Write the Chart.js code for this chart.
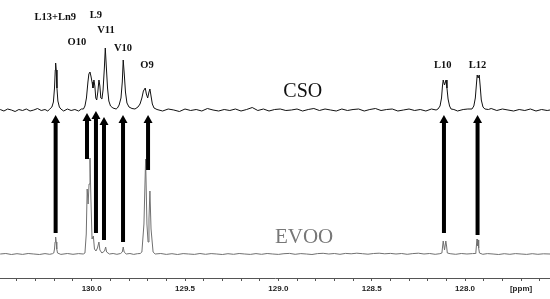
<!DOCTYPE html>
<html>
<head>
<meta charset="utf-8">
<script src="https://cdn.jsdelivr.net/npm/chart.js@4/dist/chart.umd.min.js"></script>
<style>
  html, body { margin: 0; padding: 0; background: #fff; }
  #wrap { width: 550px; height: 299px; position: relative; }
</style>
</head>
<body>
<div id="wrap"><canvas id="nmr"></canvas></div>
<script>
// 13C NMR, olefinic region: CSO (top) vs EVOO (bottom)
// [ppm, intensity above baseline]
const csoSpectrum = [
  [130.490, 0.5], [130.470, -1], [130.450, 1], [130.430, 0], [130.410, -1.5], [130.390, 0.5],
  [130.370, -0.5], [130.350, 1], [130.330, -1], [130.310, 0], [130.290, 1.5], [130.270, -0.5],
  [130.250, 0.5], [130.235, -1],
  [130.224, 1], [130.213, 3], [130.205, 8], [130.199, 22], [130.195, 40], [130.193, 47],
  [130.190, 40], [130.186, 22], [130.181, 9], [130.173, 3], [130.165, 1],
  [130.150, -1], [130.130, 1], [130.110, -0.5], [130.090, 0.5], [130.070, -1], [130.055, 1],
  [130.044, 1], [130.036, 4], [130.028, 12], [130.020, 28], [130.015, 36], [130.009, 38],
  [130.004, 34], [129.998, 28], [129.993, 22], [129.988, 30], [129.983, 24], [129.978, 12],
  [129.973, 10], [129.967, 18], [129.961, 30], [129.956, 24], [129.951, 12], [129.945, 11],
  [129.939, 20], [129.932, 42], [129.927, 62], [129.922, 45], [129.915, 22], [129.908, 9],
  [129.899, 4], [129.886, 2], [129.869, 1],
  [129.862, 2], [129.853, 5], [129.843, 12], [129.836, 28], [129.831, 50], [129.825, 35],
  [129.819, 18], [129.811, 7], [129.800, 3], [129.784, 1.5], [129.768, 1],
  [129.752, 3], [129.741, 6], [129.731, 12], [129.723, 19], [129.713, 22], [129.707, 16],
  [129.700, 12], [129.693, 18], [129.688, 21], [129.682, 14], [129.675, 6], [129.666, 2],
  [129.650, 0.5], [129.620, -1], [129.590, 1], [129.560, 0], [129.530, -1.5], [129.500, 1],
  [129.470, -0.5], [129.440, 0.5], [129.410, -1], [129.380, 1.5], [129.350, 0], [129.320, -1],
  [129.290, 0.5], [129.260, -0.5], [129.230, 1], [129.200, -1], [129.170, 0.5], [129.140, 2.5],
  [129.110, -0.5], [129.080, 1], [129.050, -1], [129.020, 0.5], [128.990, 1], [128.960, -0.5],
  [128.930, 0], [128.900, 1], [128.870, -1], [128.840, 0.5], [128.810, 1.5], [128.780, -0.5],
  [128.750, 1], [128.720, 0], [128.690, -1], [128.660, 1], [128.630, -0.5], [128.600, 0.5],
  [128.570, 1], [128.540, -1], [128.510, 0.5], [128.480, 1.5], [128.450, -0.5], [128.420, 0.5],
  [128.390, 1], [128.360, -1], [128.330, 0], [128.300, 1], [128.270, -0.5], [128.240, 0.5],
  [128.210, -1], [128.180, 1], [128.155, 0],
  [128.145, 1], [128.134, 4], [128.126, 12], [128.121, 24], [128.117, 30], [128.110, 25],
  [128.102, 30], [128.097, 22], [128.091, 11], [128.083, 4], [128.075, 1],
  [128.060, 0.5], [128.040, -1], [128.010, 0.5], [127.985, 1],
  [127.963, 1], [127.953, 4], [127.945, 12], [127.939, 26], [127.935, 35], [127.930, 32],
  [127.924, 35], [127.919, 24], [127.913, 10], [127.904, 3], [127.894, 1],
  [127.875, 0.5], [127.860, 1.5], [127.830, -0.5], [127.800, 1], [127.770, 0], [127.740, -1],
  [127.710, 0.5], [127.680, -0.5], [127.650, 1], [127.620, -1], [127.590, 0.5], [127.560, -0.5],
  [127.545, 0]
];

const evooSpectrum = [
  [130.490, 0], [130.460, 0.5], [130.430, -0.5], [130.400, 0.3], [130.370, -0.4], [130.340, 0.5],
  [130.310, 0], [130.280, -0.5], [130.250, 0.4], [130.225, -0.3], [130.210, 0.3],
  [130.203, 1], [130.199, 5], [130.196, 12], [130.193, 17], [130.190, 12], [130.187, 5], [130.183, 1],
  [130.165, -0.4], [130.130, 0.5], [130.100, -0.3], [130.070, 0.4], [130.045, 0],
  [130.036, 1], [130.029, 20], [130.024, 65], [130.019, 50], [130.014, 70], [130.009, 96],
  [130.004, 55], [129.998, 15], [129.991, 18], [129.985, 5], [129.977, 3], [129.969, 6],
  [129.961, 12], [129.956, 4], [129.945, 1], [129.931, 3], [129.925, 7], [129.920, 2],
  [129.905, 0], [129.885, 0.5], [129.865, -0.3], [129.845, 0.5], [129.836, 2], [129.831, 7],
  [129.826, 2], [129.815, 0], [129.795, 0.5], [129.775, -0.4], [129.755, 0.3], [129.740, 0.5],
  [129.731, 2], [129.720, 30], [129.711, 95], [129.704, 30], [129.698, 12], [129.693, 35],
  [129.688, 63], [129.682, 25], [129.671, 2], [129.660, 0],
  [129.630, 0.5], [129.600, -0.4], [129.570, 0.3], [129.540, -0.5], [129.510, 0.4], [129.480, 0],
  [129.450, -0.4], [129.420, 0.5], [129.390, -0.3], [129.360, 0.4], [129.330, 0], [129.300, -0.5],
  [129.270, 0.3], [129.240, -0.3], [129.210, 0.5], [129.180, 0], [129.150, -0.4], [129.120, 0.4],
  [129.090, -0.3], [129.060, 0.5], [129.030, 0], [129.000, -0.4], [128.970, 0.3], [128.940, 0.6],
  [128.910, -0.3], [128.880, 0.4], [128.850, 0], [128.820, -0.5], [128.790, 0.4], [128.760, 0.7],
  [128.730, 0], [128.700, 0.5], [128.670, -0.3], [128.640, 0.6], [128.610, 0.2], [128.580, 0.8],
  [128.550, 0.3], [128.520, -0.2], [128.490, 0.5], [128.460, 0.8], [128.430, 0.2], [128.400, 0.6],
  [128.370, 0], [128.340, 0.5], [128.310, -0.3], [128.280, 0.4], [128.250, 0.8], [128.220, 0],
  [128.190, 0.5], [128.160, -0.3], [128.135, 0.3],
  [128.124, 1], [128.120, 8], [128.117, 13], [128.110, 4], [128.103, 13], [128.099, 8], [128.095, 1],
  [128.080, 0.3], [128.050, -0.3], [128.020, 0.5], [127.990, 0], [127.960, 0.4], [127.946, 0.5],
  [127.942, 2], [127.938, 11], [127.936, 15], [127.933, 8], [127.930, 14], [127.927, 6], [127.923, 1],
  [127.905, -0.3], [127.880, 0.4], [127.850, 0], [127.820, -0.5], [127.790, 0.3], [127.760, -0.3],
  [127.730, 0.4], [127.700, 0], [127.670, -0.4], [127.640, 0.3], [127.610, -0.3], [127.580, 0.2],
  [127.545, 0]
];

const csoBase = 168;
const evooBase = 24;

// peak assignments: label, ppm, height on the plot scale
const peakLabels = ["L13+Ln9", "L9", "V11", "O10", "V10", "O9", "L10", "L12"];
const labelPpm = [130.195, 129.977, 129.923, 130.079, 129.832, 129.704, 128.119, 127.933];
const labelY = [261, 263, 248, 236, 230, 213, 213, 213];

// arrows from EVOO peaks up to CSO peaks
const arrowPpm = [130.193, 130.025, 129.977, 129.934, 129.832, 129.698, 128.113, 127.933];
const arrowFrom = [45, 119, 45, 38, 36, 108, 45, 43];
const arrowTo = [163, 165, 167, 161, 163, 163, 163, 163];

const axisTicks = [130.4, 130.3, 130.2, 130.1, 130.0, 129.9, 129.8, 129.7, 129.6, 129.5,
  129.4, 129.3, 129.2, 129.1, 129.0, 128.9, 128.8, 128.7, 128.6, 128.5,
  128.4, 128.3, 128.2, 128.1, 128.0, 127.9, 127.8, 127.7, 127.6];
const tickLabelValues = [130.0, 129.5, 129.0, 128.5, 128.0, 127.7];
const tickLabelTexts = ["130.0", "129.5", "129.0", "128.5", "128.0", "[ppm]"];

const annotations = {
  id: "annotations",
  afterDatasetsDraw(chart) {
    const { ctx } = chart;
    const x = chart.scales.x;
    const y = chart.scales.y;
    ctx.save();

    // arrows
    ctx.fillStyle = "#000";
    arrowPpm.forEach((p, i) => {
      const px = x.getPixelForValue(p);
      const yb = y.getPixelForValue(arrowFrom[i]);
      const yt = y.getPixelForValue(arrowTo[i]);
      const head = 8;
      ctx.fillRect(px - 2, yt + head - 1, 4, yb - yt - head + 1);
      ctx.beginPath();
      ctx.moveTo(px, yt);
      ctx.lineTo(px - 4.5, yt + head);
      ctx.lineTo(px + 4.5, yt + head);
      ctx.closePath();
      ctx.fill();
    });

    // peak labels
    ctx.textAlign = "center";
    ctx.textBaseline = "middle";
    ctx.font = "bold 10.5px 'Liberation Serif', 'Times New Roman', serif";
    ctx.fillStyle = "#111";
    peakLabels.forEach((t, i) => {
      ctx.fillText(t, x.getPixelForValue(labelPpm[i]), y.getPixelForValue(labelY[i]));
    });

    // sample names
    ctx.font = "20px 'Liberation Serif', 'Times New Roman', serif";
    ctx.fillStyle = "#111";
    ctx.fillText("CSO", x.getPixelForValue(128.869), y.getPixelForValue(186));
    ctx.font = "21px 'Liberation Serif', 'Times New Roman', serif";
    ctx.fillStyle = "#777";
    ctx.fillText("EVOO", x.getPixelForValue(128.862), y.getPixelForValue(41));

    ctx.restore();
  }
};

new Chart(document.getElementById("nmr").getContext("2d"), {
  type: "line",
  data: {
    datasets: [
      {
        label: "CSO",
        data: csoSpectrum.map(([p, v]) => ({ x: p, y: v + csoBase })),
        borderColor: "#111",
        borderWidth: 1,
        pointRadius: 0,
        tension: 0,
      },
      {
        label: "EVOO",
        data: evooSpectrum.map(([p, v]) => ({ x: p, y: v + evooBase })),
        borderColor: "#707070",
        borderWidth: 1,
        pointRadius: 0,
        tension: 0,
      },
    ],
  },
  plugins: [annotations],
  options: {
    responsive: true,
    maintainAspectRatio: false,
    animation: false,
    layout: { padding: 0 },
    plugins: {
      legend: { display: false },
      tooltip: { enabled: false },
    },
    scales: {
      x: {
        type: "linear",
        reverse: true,
        min: 127.545,
        max: 130.491,
        afterBuildTicks: (scale) => {
          scale.ticks = axisTicks.map((v) => ({ value: v }));
        },
        afterFit: (scale) => {
          scale.height = 21;
        },
        grid: {
          drawOnChartArea: false,
          drawTicks: true,
          tickLength: 3,
          color: "#555",
        },
        border: { display: true, color: "#555", width: 1 },
        ticks: {
          autoSkip: false,
          maxRotation: 0,
          padding: 3,
          color: "#222",
          font: { family: "'Liberation Sans', Arial, sans-serif", size: 8, weight: "bold" },
          callback: (v) => {
            const i = tickLabelValues.findIndex((t) => Math.abs(t - v) < 0.001);
            return i >= 0 ? tickLabelTexts[i] : "";
          },
        },
      },
      y: {
        display: false,
        min: 0,
        max: 278,
      },
    },
  },
});
</script>
</body>
</html>
